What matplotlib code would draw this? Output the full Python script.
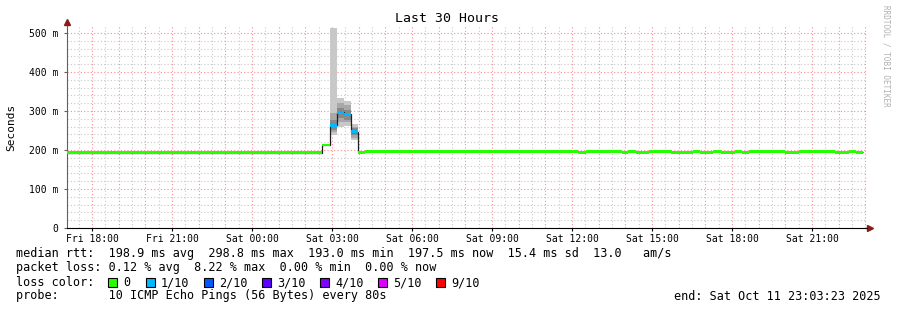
import matplotlib
matplotlib.use("Agg")
import matplotlib.pyplot as plt
from matplotlib.patches import Rectangle
import numpy as np

# time axis in hours since Fri 17:03:23 (30 hour window)
edges = [0.0, 9.56, 9.86, 10.13, 10.39, 10.65, 10.91, 11.18, 14.93, 15.19, 19.16, 19.46,
         20.81, 21.04, 21.34, 21.83, 22.65, 23.48, 23.74, 24.23, 24.53, 25.05, 25.31,
         25.58, 26.93, 27.45, 28.80, 29.33, 29.59, 29.85]
median = [193.0, 213.0, 263.5, 297.0, 291.5, 247.0, 194.5, 197.0, 197.0, 197.0, 194.5,
          197.0, 194.5, 197.0, 194.5, 197.0, 194.5, 197.0, 194.5, 197.0, 194.5, 197.0,
          194.5, 197.0, 194.5, 197.0, 194.5, 197.0, 194.5]
loss = [0, 0, 1, 1, 1, 1, 0, 0, 0, 0, 0, 0, 0, 0, 0, 0, 0, 0, 0, 0, 0, 0, 0, 0, 0, 0, 0, 0, 0]

# smoke bands (lo, hi) for the segments that show spread: outer, middle, inner
smoke_idx = [2, 3, 4, 5, 8]
smoke_outer = [(238, 512), (260, 334), (262, 326), (226, 266), (194, 200)]
smoke_mid = [(247, 294), (273, 320), (272, 315), (230, 260), (195, 199)]
smoke_inner = [(251, 277), (282, 308), (277, 303), (238, 256), (196, 198)]

loss_labels = ["0", "1/10", "2/10", "3/10", "4/10", "5/10", "9/10"]
loss_colors = ["#26ff00", "#00b8ff", "#0059ff", "#5e00ff", "#7e00ff", "#dd00ff", "#ff0000"]

xtick_hours = [0.9436 + 3 * k for k in range(10)]
xtick_labels = ["Fri 18:00", "Fri 21:00", "Sat 00:00", "Sat 03:00", "Sat 06:00",
                "Sat 09:00", "Sat 12:00", "Sat 15:00", "Sat 18:00", "Sat 21:00"]
ytick_vals = [0, 100, 200, 300, 400, 500]
ytick_labels = ["0", "100 m", "200 m", "300 m", "400 m", "500 m"]

W, H = 897, 310
MONO = "DejaVu Sans Mono"
plt.rcParams["font.family"] = MONO

fig = plt.figure(figsize=(W / 100, H / 100), dpi=100)
ax = fig.add_axes([67 / W, 82 / H, 800 / W, 202 / H])
ax.set_xlim(0, 30)
ax.set_ylim(0, 518)

# grid: red every hour / 100 m, grey every half hour / 20 m
for h in np.arange(xtick_hours[0] - 0.5, 30.01, 0.5):
    major = abs((h - xtick_hours[0]) % 1.0) < 1e-6
    ax.axvline(h, color="#ff8c8c" if major else "#c8c8c8", lw=0.8,
               ls=(0, (1, 2)), zorder=0)
for v in range(20, 518, 20):
    ax.axhline(v, color="#ff8c8c" if v % 100 == 0 else "#c8c8c8", lw=0.8,
               ls=(0, (1, 2)), zorder=0)

e = np.array(edges)
left = e[:-1]
width = np.diff(e)

# smoke
for band, col in [(smoke_outer, "#c8c8c8"), (smoke_mid, "#a8a8a8"), (smoke_inner, "#888888")]:
    for i, (lo, hi) in zip(smoke_idx, band):
        ax.bar(left[i], hi - lo, width=width[i], bottom=lo, align="edge",
               color=col, lw=0, zorder=2)

# median line
ax.stairs(median, edges, baseline=None, color="#202020", lw=0.9, zorder=3)

# loss coloured median band
sw = 3.6
for i in range(len(median)):
    ax.bar(left[i], 2 * sw, width=width[i], bottom=median[i] - sw, align="edge",
           color=loss_colors[loss[i]], lw=0, zorder=4)

for s in ["top", "right"]:
    ax.spines[s].set_visible(False)
ax.spines["left"].set_color("#606060")
ax.spines["bottom"].set_color("black")
ax.plot(0, 1.02, marker="^", color="#8b1a1a", ms=4, transform=ax.transAxes, clip_on=False)
ax.plot(1.004, 0, marker=">", color="#8b1a1a", ms=4, transform=ax.transAxes, clip_on=False)

ax.set_xticks(xtick_hours)
ax.set_xticklabels(xtick_labels, fontsize=7)
ax.set_yticks(ytick_vals)
ax.set_yticklabels(ytick_labels, fontsize=7)
ax.tick_params(axis="x", length=2, pad=2, color="black")
ax.tick_params(axis="y", length=2, pad=4, color="#606060")

fig.text(447 / W, 1 - 19 / H, "Last 30 Hours", ha="center", va="center", fontsize=9.5)
fig.text(11 / W, 1 - 127 / H, "Seconds", ha="center", va="center", rotation=90, fontsize=8)
fig.text(886 / W, 1 - 5 / H, "RRDTOOL / TOBI OETIKER", ha="center", va="top",
         rotation=270, fontsize=5.5, color="#b0b0b0")

fs = 8.5
def ftxt(x, y, s, **kw):
    fig.text(x / W, 1 - y / H, s, va="center", fontsize=fs, **kw)

ftxt(16, 254, "median rtt:  198.9 ms avg  298.8 ms max  193.0 ms min  197.5 ms now  15.4 ms sd  13.0   am/s")
ftxt(16, 268, "packet loss: 0.12 % avg  8.22 % max  0.00 % min  0.00 % now")
ftxt(16, 282.5, "loss color:")
sq_x = [108, 146, 204, 262, 320, 378, 436]
for x, lab, col in zip(sq_x, loss_labels, loss_colors):
    fig.patches.append(Rectangle((x / W, 1 - 287 / H), 9 / W, 9 / H, facecolor=col,
                                 edgecolor="black", lw=0.8, transform=fig.transFigure))
    ftxt(x + 15, 282.5, lab)
ftxt(16, 296, "probe:       10 ICMP Echo Pings (56 Bytes) every 80s")
ftxt(881, 296, "end: Sat Oct 11 23:03:23 2025", ha="right")

fig.savefig("out.png", dpi=100)
